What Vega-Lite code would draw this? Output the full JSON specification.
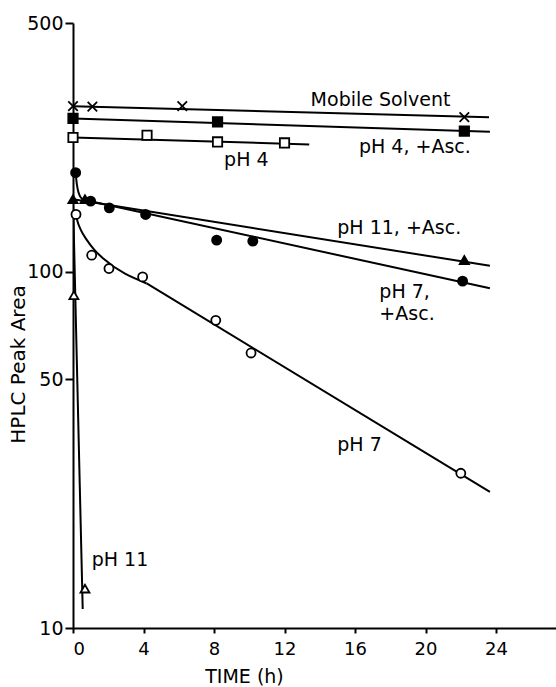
{
  "$schema": "https://vega.github.io/schema/vega-lite/v6.json",
  "autosize": {"type": "none"},
  "padding": {"left": 73, "top": 23, "right": 0, "bottom": 59},
  "width": 483,
  "height": 605,
  "background": "white",
  "config": {"view": {"stroke": null}, "font": "DejaVu Sans"},
  "datasets": {
    "lines": [
      {"curve": "Mobile Solvent", "t": 0, "v": 292},
      {"curve": "Mobile Solvent", "t": 23.6, "v": 272},
      {"curve": "pH 4, +Asc.", "t": 0, "v": 269.7},
      {"curve": "pH 4, +Asc.", "t": 23.65, "v": 247.4},
      {"curve": "pH 4", "t": 0, "v": 238.5},
      {"curve": "pH 4", "t": 13.4, "v": 228},
      {"curve": "pH 11, +Asc.", "t": 0, "v": 160},
      {"curve": "pH 11, +Asc.", "t": 23.65, "v": 104},
      {"curve": "pH 7, +Asc.", "t": 0.6, "v": 159.5},
      {"curve": "pH 7, +Asc.", "t": 23.65, "v": 90},
      {"curve": "pH 7", "t": 4.18, "v": 92.8},
      {"curve": "pH 7", "t": 23.65, "v": 24.1},
      {"curve": "pH 11", "t": 0, "v": 160},
      {"curve": "pH 11", "t": 0.55, "v": 11.3}
    ],
    "curves": [
      {"curve": "pH 7, +Asc.", "t": 0.15, "v": 190},
      {"curve": "pH 7, +Asc.", "t": 0.22, "v": 176},
      {"curve": "pH 7, +Asc.", "t": 0.4, "v": 163},
      {"curve": "pH 7, +Asc.", "t": 0.6, "v": 159.5},
      {"curve": "pH 7", "t": 0.17, "v": 145},
      {"curve": "pH 7", "t": 0.25, "v": 139},
      {"curve": "pH 7", "t": 0.45, "v": 131},
      {"curve": "pH 7", "t": 0.78, "v": 123},
      {"curve": "pH 7", "t": 1.2, "v": 115.5},
      {"curve": "pH 7", "t": 1.72, "v": 109},
      {"curve": "pH 7", "t": 4.18, "v": 92.8}
    ],
    "points": [
      {"series": "Mobile Solvent", "t": 0, "v": 292},
      {"series": "Mobile Solvent", "t": 1.1, "v": 291},
      {"series": "Mobile Solvent", "t": 6.2, "v": 292},
      {"series": "Mobile Solvent", "t": 22.2, "v": 272},
      {"series": "pH 4, +Asc.", "t": 0, "v": 269.7},
      {"series": "pH 4, +Asc.", "t": 8.2, "v": 263.8},
      {"series": "pH 4, +Asc.", "t": 22.2, "v": 248.4},
      {"series": "pH 4", "t": 0, "v": 238.5},
      {"series": "pH 4", "t": 4.2, "v": 242},
      {"series": "pH 4", "t": 8.2, "v": 231.8},
      {"series": "pH 4", "t": 12.0, "v": 230.3},
      {"series": "pH 11, +Asc.", "t": 0, "v": 160},
      {"series": "pH 11, +Asc.", "t": 0.68, "v": 160},
      {"series": "pH 11, +Asc.", "t": 22.2, "v": 108},
      {"series": "pH 7, +Asc.", "t": 0.15, "v": 190},
      {"series": "pH 7, +Asc.", "t": 1.0, "v": 158},
      {"series": "pH 7, +Asc.", "t": 2.06, "v": 151.3},
      {"series": "pH 7, +Asc.", "t": 4.12, "v": 145},
      {"series": "pH 7, +Asc.", "t": 8.15, "v": 122.8},
      {"series": "pH 7, +Asc.", "t": 10.2, "v": 122},
      {"series": "pH 7, +Asc.", "t": 22.1, "v": 94.2},
      {"series": "pH 7", "t": 0.17, "v": 145},
      {"series": "pH 7", "t": 1.06, "v": 111.4},
      {"series": "pH 7", "t": 2.04, "v": 102.2},
      {"series": "pH 7", "t": 3.95, "v": 96.8},
      {"series": "pH 7", "t": 8.1, "v": 73.1},
      {"series": "pH 7", "t": 10.1, "v": 59.2},
      {"series": "pH 7", "t": 22.0, "v": 27.2},
      {"series": "pH 11", "t": 0.05, "v": 86},
      {"series": "pH 11", "t": 0.68, "v": 12.9}
    ],
    "labels": [
      {"label": "Mobile Solvent", "t": 13.48, "v": 303.6},
      {"label": "pH 4, +Asc.", "t": 16.22, "v": 224.4},
      {"label": "pH 4", "t": 8.57, "v": 205.9},
      {"label": "pH 11, +Asc.", "t": 14.99, "v": 132.4},
      {"label": "pH 7,", "t": 17.38, "v": 87.8},
      {"label": "+Asc.", "t": 17.38, "v": 76.1},
      {"label": "pH 7", "t": 14.99, "v": 32.6},
      {"label": "pH 11", "t": 1.06, "v": 15.5}
    ]
  },
  "encoding": {
    "x": {
      "field": "t", "type": "quantitative",
      "scale": {"domain": [0, 27.4], "nice": false, "zero": false},
      "axis": {
        "title": "TIME (h)", "values": [0, 4, 8, 12, 16, 20, 24],
        "grid": false, "tickSize": 5, "tickWidth": 2, "domainWidth": 2,
        "domainColor": "black", "tickColor": "black",
        "labelFontSize": 18, "labelColor": "black", "labelPadding": 7,
        "titleFontSize": 19, "titleFontWeight": "normal", "titleColor": "black",
        "titleAlign": "center", "titleAnchor": null, "titleX": 171, "titleY": 48, "titleBaseline": "middle"
      }
    },
    "y": {
      "field": "v", "type": "quantitative",
      "scale": {"type": "log", "domain": [10, 500], "nice": false},
      "axis": {
        "title": "HPLC Peak Area", "values": [10, 50, 100, 500],
        "grid": false, "tickSize": 8, "tickWidth": 2, "domainWidth": 2,
        "domainColor": "black", "tickColor": "black",
        "labelFontSize": 19, "labelColor": "black", "labelPadding": 2,
        "titleFontSize": 20, "titleFontWeight": "normal", "titleColor": "black",
        "titleAngle": -90, "titleAlign": "center", "titleAnchor": null,
        "titleX": -55, "titleY": 341, "titleBaseline": "middle"
      }
    }
  },
  "layer": [
    {
      "data": {"name": "lines"},
      "mark": {"type": "line", "color": "black", "strokeWidth": 2, "clip": true},
      "encoding": {"detail": {"field": "curve"}}
    },
    {
      "data": {"name": "curves"},
      "mark": {"type": "line", "color": "black", "strokeWidth": 2, "interpolate": "monotone", "clip": true},
      "encoding": {"detail": {"field": "curve"}}
    },
    {
      "data": {"name": "points"},
      "mark": {"type": "point", "filled": true, "stroke": "black", "strokeWidth": 1.8, "opacity": 1},
      "encoding": {
        "shape": {
          "field": "series", "type": "nominal", "legend": null,
          "scale": {
            "domain": ["Mobile Solvent", "pH 4, +Asc.", "pH 4", "pH 11, +Asc.", "pH 7, +Asc.", "pH 7", "pH 11"],
            "range": ["M-1,-1L1,1M-1,1L1,-1", "square", "square", "triangle-up", "circle", "circle", "triangle-up"]
          }
        },
        "fill": {
          "field": "series", "type": "nominal", "legend": null,
          "scale": {
            "domain": ["Mobile Solvent", "pH 4, +Asc.", "pH 4", "pH 11, +Asc.", "pH 7, +Asc.", "pH 7", "pH 11"],
            "range": ["black", "black", "white", "black", "black", "white", "white"]
          }
        },
        "size": {
          "field": "series", "type": "nominal", "legend": null,
          "scale": {
            "domain": ["Mobile Solvent", "pH 4, +Asc.", "pH 4", "pH 11, +Asc.", "pH 7, +Asc.", "pH 7", "pH 11"],
            "range": [90, 80, 75, 140, 115, 115, 120]
          }
        }
      }
    },
    {
      "data": {"name": "labels"},
      "mark": {"type": "text", "align": "left", "baseline": "middle", "fontSize": 19, "color": "black", "font": "DejaVu Sans"},
      "encoding": {"text": {"field": "label"}}
    }
  ]
}
